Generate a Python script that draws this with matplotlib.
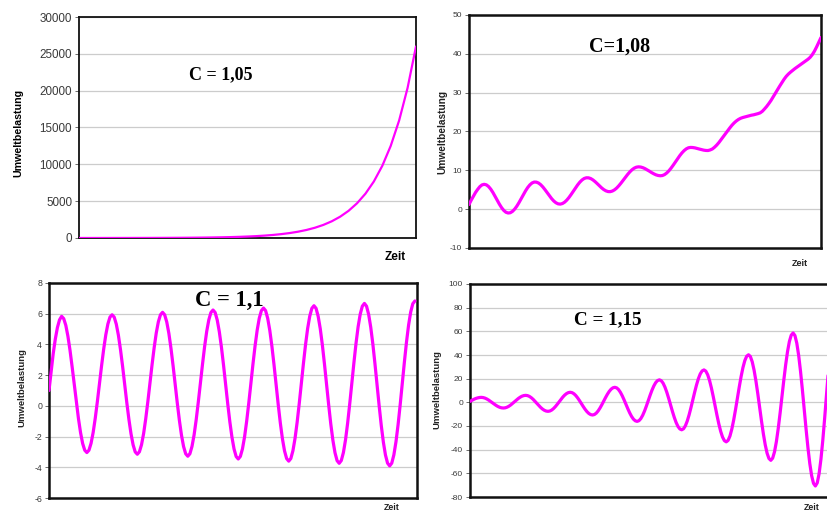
import numpy as np
import matplotlib
matplotlib.use("Agg")
import matplotlib.pyplot as plt

plt.rcParams["axes.unicode_minus"] = False

W, H = 828, 513

# values (Zeit = time step)
titles = ["C = 1,05", "C=1,08", "C = 1,1", "C = 1,15"]

zeit_105 = np.arange(0, 201, 5)
last_105 = [1, 2, 2, 3, 4, 5, 6, 8, 10, 13, 17, 22, 28, 36, 46, 58, 75, 95, 121, 155,
            198, 252, 322, 411, 525, 670, 855, 1091, 1392, 1776, 2267, 2894, 3693,
            4713, 6016, 7678, 9799, 12506, 15962, 20371, 26000]

# half-step readings
last_108 = [1.2, 2.3, 3.3, 4.3, 5.1, 5.8, 6.25, 6.4, 6.26, 5.83, 5.16, 4.30, 3.32, 2.29,
            1.28, 0.39, -0.32, -0.80, -0.99, -0.92, -0.58, 0.0, 0.76, 1.68, 2.69, 3.71,
            4.69, 5.56, 6.25, 6.74, 6.98, 6.96, 6.73, 6.30, 5.71, 5.00, 4.23, 3.45,
            2.73, 2.11, 1.65, 1.37, 1.30, 1.45, 1.80, 2.33, 3.00, 3.78, 4.62, 5.45,
            6.25, 6.95, 7.51, 7.90, 8.08, 8.07, 7.89, 7.55, 7.10, 6.58, 6.02, 5.50,
            5.05, 4.72, 4.53, 4.51, 4.67, 4.99, 5.46, 6.06, 6.74, 7.47, 8.22, 8.94,
            9.59, 10.14, 10.55, 10.81, 10.90, 10.85, 10.69, 10.44, 10.13, 9.79, 9.43,
            9.12, 8.85, 8.68, 8.60, 8.66, 8.90, 9.32, 9.88, 10.57, 11.34, 12.17,
            12.99, 13.78, 14.49, 15.08, 15.53, 15.81, 15.90, 15.87, 15.78, 15.64,
            15.48, 15.33, 15.20, 15.12, 15.10, 15.25, 15.5, 15.95, 16.5, 17.15,
            17.9, 18.65, 19.4, 20.15, 20.9, 21.6, 22.2, 22.7, 23.1, 23.4, 23.6,
            23.75, 23.9, 24.05, 24.2, 24.3, 24.45, 24.6, 24.8, 25.2, 25.8, 26.45,
            27.2, 28.0, 28.9, 29.85, 30.8, 31.7, 32.6, 33.45, 34.2, 34.8, 35.3,
            35.75, 36.2, 36.6, 37.0, 37.4, 37.8, 38.2, 38.6, 39.1, 39.8, 40.7,
            41.8, 43.0, 44.2]
zeit_108 = np.arange(len(last_108)) * 0.5

last_11 = [1.0, 2.2, 3.4, 4.35, 5.1, 5.6, 5.83,
           5.68, 5.24, 4.53, 3.61, 2.54, 1.40, 0.25, -0.82, -1.74, -2.45, -2.89, -3.04,
           -2.89, -2.44, -1.73, -0.80, 0.28, 1.45, 2.61, 3.69, 4.62, 5.33, 5.78, 5.93,
           5.78, 5.32, 4.60, 3.66, 2.57, 1.39, 0.21, -0.88, -1.82, -2.54, -3.00, -3.15,
           -2.99, -2.53, -1.80, -0.84, 0.27, 1.47, 2.67, 3.78, 4.74, 5.47, 5.93, 6.09,
           5.93, 5.46, 4.72, 3.75, 2.62, 1.41, 0.19, -0.94, -1.91, -2.65, -3.12, -3.28,
           -3.12, -2.64, -1.89, -0.90, 0.25, 1.48, 2.71, 3.86, 4.85, 5.60, 6.08, 6.24,
           6.08, 5.59, 4.82, 3.82, 2.65, 1.39, 0.13, -1.04, -2.04, -2.81, -3.30, -3.46,
           -3.29, -2.80, -2.02, -1.00, 0.18, 1.46, 2.73, 3.91, 4.93, 5.71, 6.20, 6.37,
           6.20, 5.70, 4.91, 3.88, 2.68, 1.39, 0.09, -1.11, -2.14, -2.93, -3.43, -3.60,
           -3.43, -2.92, -2.12, -1.07, 0.15, 1.46, 2.77, 3.99, 5.04, 5.84, 6.35, 6.52,
           6.35, 5.83, 5.02, 3.96, 2.72, 1.39, 0.06, -1.18, -2.24, -3.05, -3.57, -3.74,
           -3.56, -3.04, -2.22, -1.14, 0.12, 1.47, 2.81, 4.07, 5.15, 5.97, 6.49, 6.67,
           6.49, 5.96, 5.12, 4.03, 2.75, 1.38, 0.01, -1.27, -2.36, -3.20, -3.73, -3.91,
           -3.73, -3.19, -2.34, -1.23, 0.07, 1.46, 2.85, 4.15, 5.26, 6.11, 6.65, 6.83]
zeit_11 = np.arange(len(last_11)) * 0.5

last_115 = [0.8, 1.7, 2.5, 3.2, 3.7, 4.05, 4.2,
            4.05, 3.60, 2.88, 1.95, 0.87, -0.30, -1.47, -2.55, -3.48, -4.20, -4.65, -4.80,
            -4.62, -4.08, -3.23, -2.13, -0.84, 0.55, 1.94, 3.23, 4.33, 5.18, 5.72, 5.90,
            5.67, 5.00, 3.92, 2.53, 0.90, -0.85, -2.60, -4.23, -5.62, -6.70, -7.37, -7.60,
            -7.33, -6.52, -5.24, -3.58, -1.64, 0.45, 2.54, 4.48, 6.14, 7.42, 8.23, 8.50,
            8.17, 7.21, 5.69, 3.70, 1.39, -1.10, -3.59, -5.90, -7.89, -9.41, -10.37, -10.70,
            -10.30, -9.13, -7.27, -4.85, -2.03, 1.00, 4.03, 6.85, 9.27, 11.13, 12.30, 12.70,
            12.21, 10.77, 8.48, 5.50, 2.03, -1.70, -5.43, -8.90, -11.88, -14.17, -15.61, -16.10,
            -15.50, -13.75, -10.96, -7.33, -3.10, 1.45, 6.00, 10.23, 13.86, 16.65, 18.40, 19.00,
            18.28, 16.17, 12.82, 8.45, 3.37, -2.10, -7.57, -12.65, -17.02, -20.37, -22.48, -23.20,
            -22.34, -19.81, -15.79, -10.55, -4.45, 2.10, 8.65, 14.75, 19.99, 24.01, 26.54, 27.40,
            26.37, 23.33, 18.49, 12.20, 4.87, -3.00, -10.87, -18.20, -24.49, -29.33, -32.37, -33.40,
            -32.15, -28.47, -22.62, -15.00, -6.13, 3.40, 12.93, 21.80, 29.42, 35.27, 38.95, 40.20,
            38.68, 34.22, 27.13, 17.90, 7.15, -4.40, -15.95, -26.70, -35.93, -43.02, -47.48, -49.00,
            -47.17, -41.79, -33.24, -22.10, -9.13, 4.80, 18.73, 31.70, 42.84, 51.39, 56.77, 58.60,
            56.40, 49.94, 39.66, 26.28, 10.69, -6.05, -22.79, -38.38, -51.76, -62.04, -68.50, -70.70,
            -68.07, -60.34, -48.05, -32.05, -13.42, 6.60, 26.62, 45.25]
zeit_115 = np.arange(len(last_115)) * 0.5

yticks = [np.arange(0, 30001, 5000), np.arange(-10, 51, 10),
          np.arange(-6, 9, 2), np.arange(-80, 101, 20)]

fig = plt.figure(figsize=(W / 100, H / 100), dpi=100)
fig.patch.set_facecolor("white")


def box(l, t, r, b):
    return [l / W, 1 - b / H, (r - l) / W, (b - t) / H]


def panel(rect, x, y, xlim, ticks, tick_fs, spine_lw, line_lw):
    ax = fig.add_axes(rect)
    ax.plot(x, y, color="#ff00ff", lw=line_lw, solid_capstyle="round",
            solid_joinstyle="round", zorder=3)
    ax.set_xlim(*xlim)
    ax.set_ylim(ticks[0], ticks[-1])
    ax.set_yticks(ticks)
    ax.set_xticks([])
    ax.yaxis.grid(True, color="#cccccc", lw=0.9)
    ax.set_axisbelow(True)
    ax.tick_params(axis="y", length=3, width=0.6, color="#555555", pad=2,
                   labelsize=tick_fs, labelcolor="#3a3a3a")
    for lab in ax.get_yticklabels():
        lab.set_fontfamily("Liberation Sans")
    for s in ax.spines.values():
        s.set_linewidth(spine_lw)
        s.set_color("#111111")
    return ax


ax1 = panel(box(79, 17, 416, 238), zeit_105, last_105, (0, 200), yticks[0], 8.4, 1.3, 1.6)
ax2 = panel(box(469, 15, 821, 248), zeit_108, last_108, (0, 81), yticks[1], 6.0, 1.8, 2.3)
ax3 = panel(box(49, 283, 417, 498), zeit_11, last_11, (0, 87.5), yticks[2], 6.3, 1.8, 2.3)
ax4 = panel(box(470, 284, 828, 497), zeit_115, last_115, (0, 96.4), yticks[3], 6.0, 1.8, 2.3)

serif = "Liberation Serif"
fig.text(221 / W, 1 - 75 / H, titles[0], family=serif, weight="bold", size=13,
         ha="center", va="center")
fig.text(620 / W, 1 - 47 / H, titles[1], family=serif, weight="bold", size=14.5,
         ha="center", va="center")
fig.text(229 / W, 1 - 300 / H, titles[2], family=serif, weight="bold", size=16.3,
         ha="center", va="center")
fig.text(608 / W, 1 - 320 / H, titles[3], family=serif, weight="bold", size=13.8,
         ha="center", va="center")

sans = "Liberation Sans"
ylab = "Umweltbelastung"
fig.text(18 / W, 1 - 133 / H, ylab, family=sans, weight="bold", size=7.7,
         rotation=90, ha="center", va="center")
fig.text(442 / W, 1 - 132 / H, ylab, family=sans, weight="bold", size=7.3,
         rotation=90, ha="center", va="center", color="#222222")
fig.text(22 / W, 1 - 388 / H, ylab, family=sans, weight="bold", size=6.8,
         rotation=90, ha="center", va="center", color="#222222")
fig.text(437 / W, 1 - 390 / H, ylab, family=sans, weight="bold", size=6.8,
         rotation=90, ha="center", va="center", color="#222222")

fig.text(395 / W, 1 - 257 / H, "Zeit", family=sans, weight="bold", size=8.5,
         ha="center", va="center")
fig.text(800 / W, 1 - 264 / H, "Zeit", family=sans, weight="bold", size=6.5,
         ha="center", va="center", color="#222222")
fig.text(392 / W, 1 - 512 / H, "Zeit", family=sans, weight="bold", size=6.3,
         ha="center", va="bottom", color="#222222")
fig.text(812 / W, 1 - 512 / H, "Zeit", family=sans, weight="bold", size=6.3,
         ha="center", va="bottom", color="#222222")

fig.savefig("out.png", dpi=100)
